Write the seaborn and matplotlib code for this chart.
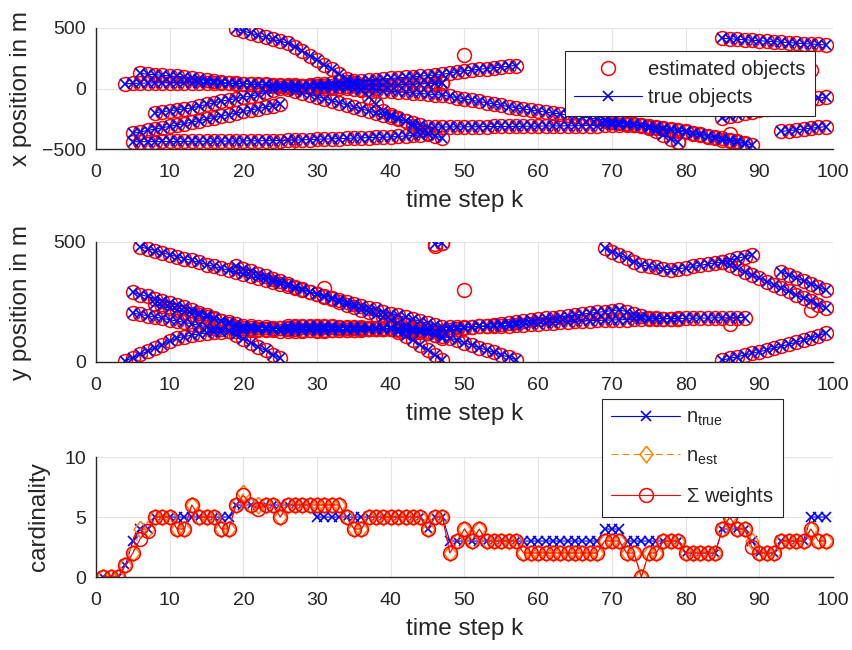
import numpy as np
import pandas as pd
import matplotlib
matplotlib.use("Agg")
import matplotlib.pyplot as plt
from matplotlib.lines import Line2D
import seaborn as sns

# ---------------- data: true object tracks (start step, x list, y list) -------------
a_k0 = 4
a_x = [40,42,44,45,46,47,48,48,48,47,46,45,44,43,42,41,40, 38,36,34,32,30,28,26,24,22,20,
       21,22,23,24,25,26,27,28,29,30,32,34,36,38,40,42,44]
a_y = [5,18,32,45,59,72,86,100,106,112,117,121,124,127,129,130,131, 133,135,137,139,141,143,145,147,149,150,
       149,148,147,146,145,144,143,142,141,140,125,110,90,70,50,28,8]

b_k0 = 5
b_x = [-440,-440,-439,-439,-438,-438,-437,-437,-436,-436,-435,-435,-434,-434,-433,-433,-432,-432,-431,-431,-430,
       -428,-426,-424,-422,-420,-418,-416,-414,-412,-410,-408,-406,-404,-402,-400,-396,-392,-388,-384,-380]
b_y = [290,281,273,264,256,247,239,230,218,206,194,182,170,157,145,142,140,137,135,132,130,
       130,131,131,132,132,133,133,134,134,135,135,136,136,137,137,138,138,139,139,140]

c_k0 = 5
c_x = [-370,-359,-347,-336,-324,-313,-301,-290,-278,-265,-253,-240,-228,-215,-203,-190,-178,-166,-154,-142,-130]
c_y = [204,198,193,187,182,176,171,165,159,153,147,141,136,130,114,97,81,64,48,31,15]

d_k0 = 6
d_x = [124,119,114,109,104,100,95,90, 80,70,60,50, 46,42,39,35,31,27,24,20, 18,16,14,12,10,8,6,4,2,0,
       -5,-9,-14,-18,-23,-28,-32,-37,-41,-46,-50,-55, -65,-76,-86,-97,-107,-118,-128,-139,-149,-160,-170,
       -178,-186,-195,-203,-211,-219,-227,-235,-244,-252,-260, -268,-276,-284,-292,-300,-308,-316,-324,-332,-340,
       -352,-364,-377,-389,-401,-413,-425,-438,-450]
d_y = [480,472,464,455,447,439,431,423,415,406,398,390,382,374,366,357,349,341,333,325,317,308,300,292,284,276,
       268,259,251,243,235,227,219,210,202,194,186,178,170,161,153,145,
       146,146,147,147,148,148,149,150, 152,154,156,158,160,162,164,166,168,170,
       171,172,173,174,175,176,177,178,179,180, 180,181,181,182,182,183,183,183,184,184,184,185,185]

e_k0 = 8
e_x = [-200,-192,-184,-176,-168,-160,-146,-132,-119,-105,-94,-83,-72,-61,-50,-31,-11,8,
       13,18,24,29,34,39,44,50,55,60,65,69,74,79,83,88,93,97,102,107,111,116,128,140,
       146,152,159,165,171,177,184,190]
e_y = [240,232,225,217,210,202,195,187,180,172,165,157,150,148,146,144,142,140,138,136,134,132,130,
       131,132,133,134,135,136,137,138,139,140,136,131,127,123,119,114,110,
       100,90,80,70,60,50,40,30,20,10]

f_k0 = 19
f_x = [490,475,458,440,422,405,392,375,345,310,272,235,198,160,120,80,45,-10,-70,-130,-190,
       -218,-245,-272,-307,-342,-370,-392,-410]
f_y = [400,389,379,368,357,346,336,325,314,304,293,282,271,261,250,239,229,218,207,196,186,
       175,164,154,143,132,121,111,100]

g_k0 = 26
g_x = [0,-17,-34,-50,-67,-84,-101,-118,-135,-152,-168,-185,-202,-219,-236,-253,-270,-286,-303,-320,
       -319,-318,-318,-317,-317,-316,-316,-315,-314,-314,-313,-313,-312,-311,-311,-310,-309,-309,-308,
       -308,-307,-306,-306,-305,-304,-304,-303,-302,-300, -330,-355,-385,-415,-445]
g_y = [150,149,148,147,146,145,144,143,142,141,140,139,138,137,136,135,134,133,132,131,130,130,
       134,138,141,145,149,152,156,160,163,167,171,174,178,182,185,189,192,196,200,203,207,210,214,217,
       210,200,190,185,182,180,180,180]

h_k0 = 46
h_x = [45,48]
h_y = [492,497]

i_k0 = 69
i_x = [-270,-278,-286,-294,-302,-310,-318,-326,-334,-342,-350,-362,-374,-386,-398,-410,-422,-434,-446,-455,-465]
i_y = [475,460,446,432,418,404,399,394,388,383,388,393,398,403,408,413,417,424,432,439,446]

j_k0 = 85
j_x = [415,411,407,403,399,395,391,387,383,379,375,371,368,364,360]
j_y = [417,404,390,376,362,349,335,321,308,294,280,266,253,239,225]

k_k0 = 85
k_x = [-240,-228,-216,-204,-192,-180,-167,-155,-143,-131,-119,-106,-94,-82,-70]
k_y = [8,15,22,29,36,43,50,58,66,74,82,91,100,110,120]

l_k0 = 93
l_x = [-355,-348,-342,-335,-328,-322,-315]
l_y = [375,363,350,338,325,313,300]

# estimated objects that do not sit on a true track (clutter / false estimates)
extra_k = [26, 31, 46, 47, 50, 79, 86, 97]
extra_x = [-470, 20, 40, 45, 280, -440, -380, 150]
extra_y = [140, 310, 485, 495, 300, 180, 160, 215]

# ---------------- data: cardinality ----------------
steps = list(range(1, 100))
n_true = [0,0,0,1,3,4,4,5,5,5, 5,5,5,5,5,5,5,5,6,6, 6,6,6,6,6,6,6,6,6,5,
          5,5,5,5,5,5,5,5,5,5, 5,5,5,5,4,5,5,3,3,3, 3,3,3,3,3,3,3,3,3,3,
          3,3,3,3,3,3,3,3,4,4, 4,3,3,3,3,3,3,3,3,2, 2,2,2,2,4,4,4,4,3,2,
          2,2,3,3,3,3,5,5,5]
n_est = [0,0,0,1,2,4,4,5,5,5, 4,4,6,5,5,5,4,4,6,7, 6,6,6,6,5,6,6,6,6,6,
         6,6,6,5,4,4,5,5,5,5, 5,5,5,5,4,5,5,2,3,4, 3,4,3,3,3,3,3,2,2,2,
         2,2,2,2,2,2,2,2,3,3, 3,2,2,0,2,2,3,3,3,2, 2,2,2,2,4,5,4,4,3,2,
         2,2,3,3,3,3,4,3,3]
w_sum = [0,0,0,1,2,3.2,3.8,5,5,5, 4,4,6,5,5,5,4,4,6,6.8, 6,5.7,6,6,5,6,6,6,6,6,
         6,6,6,5,4,4,5,5,5,5, 5,5,5,5,4,5,5,2,3,4, 3,4,3,3,3,3,3,2,2,2,
         2,2,2,2,2,2,2,2,3,3, 3,2,2,0,2,2,3,3,3,2, 2,2,2,2,4,5,4,4,2.5,2,
         2,2,3,3,3,3,4,3,3]

# ---------------- build tables ----------------
tracks = [("a", a_k0, a_x, a_y), ("b", b_k0, b_x, b_y), ("c", c_k0, c_x, c_y),
          ("d", d_k0, d_x, d_y), ("e", e_k0, e_x, e_y), ("f", f_k0, f_x, f_y),
          ("g", g_k0, g_x, g_y), ("h", h_k0, h_x, h_y), ("i", i_k0, i_x, i_y),
          ("j", j_k0, j_x, j_y), ("k", k_k0, k_x, k_y), ("l", l_k0, l_x, l_y)]
rows = []
for name, k0, xs, ys in tracks:
    for i, (xv, yv) in enumerate(zip(xs, ys)):
        rows.append({"obj": name, "k": k0 + i, "x": xv, "y": yv})
truth = pd.DataFrame(rows)
est = pd.concat([truth, pd.DataFrame({"obj": [f"z{i}" for i in range(len(extra_k))],
                                      "k": extra_k, "x": extra_x, "y": extra_y})],
                ignore_index=True)
card = pd.DataFrame({"k": steps, "n_true": n_true, "n_est": n_est, "w": w_sum})

# ---------------- style ----------------
sns.set_style("white")
TXT = "#262626"
plt.rcParams.update({
    "font.family": ["Liberation Sans", "DejaVu Sans"],
    "text.color": TXT, "axes.labelcolor": TXT,
    "xtick.color": TXT, "ytick.color": TXT,
    "axes.edgecolor": TXT, "axes.linewidth": 1.0,
    "xtick.direction": "in", "ytick.direction": "in",
    "xtick.major.size": 4, "ytick.major.size": 4,
    "xtick.major.width": 1.0, "ytick.major.width": 1.0,
    "mathtext.fontset": "custom", "mathtext.rm": "Liberation Sans",
    "mathtext.it": "Liberation Sans:italic",
})

BLUE, RED, ORANGE = "#0000FF", "#FF0000", "#FF8000"
TICK_FS, LAB_FS, LEG_FS = 14, 17.5, 14.5

fig = plt.figure(figsize=(8.53, 6.5), dpi=100)
L, W = 96/853, 737/853
ax1 = fig.add_axes([L, 1-149/650, W, 121/650])
ax2 = fig.add_axes([L, 1-362/650, W, 120/650])
ax3 = fig.add_axes([L, 1-577/650, W, 120/650])

def style(ax, ylim, yticks, ylabel, ylab_px):
    ax.set_xlim(0, 100)
    ax.set_ylim(*ylim)
    ax.set_xticks(range(0, 101, 10))
    ax.set_yticks(yticks)
    ax.grid(True, color="#E3E3E3", lw=0.8)
    ax.set_axisbelow(True)
    for s in ("top", "right"):
        ax.spines[s].set_visible(False)
    ax.tick_params(axis="x", labelsize=TICK_FS, pad=11)
    ax.tick_params(axis="y", labelsize=TICK_FS, pad=7)
    ax.set_xlabel("time step k", fontsize=LAB_FS)
    ax.set_ylabel(ylabel, fontsize=LAB_FS)
    h_px = ax.get_position().height * 650
    ax.xaxis.set_label_coords(0.5, -41 / h_px)
    ax.yaxis.set_label_coords((ylab_px - 96) / 737, 0.5)

circ_kw = dict(marker="o", markersize=10, markerfacecolor="none", markeredgecolor=RED,
               markeredgewidth=1.1, linestyle="", color=RED)
x_kw = dict(marker="x", markersize=7, markeredgecolor=BLUE, markeredgewidth=1.2,
            color=BLUE, lw=0.8)

for ax, col in ((ax1, "x"), (ax2, "y")):
    sns.lineplot(data=est, x="k", y=col, units="obj", estimator=None, sort=False,
                 ax=ax, legend=False, **circ_kw)
    sns.lineplot(data=truth, x="k", y=col, units="obj", estimator=None, sort=False,
                 ax=ax, legend=False, **x_kw)

style(ax1, (-500, 500), [-500, 0, 500], "x position in m", 32)
style(ax2, (0, 500), [0, 500], "y position in m", 32)

h_est = Line2D([], [], **circ_kw)
h_true = Line2D([], [], **x_kw)
leg1 = ax1.legend([h_est, h_true], ["estimated objects", "true objects"],
                  loc="upper left", bbox_to_anchor=(0.636, 0.81), borderaxespad=0,
                  fontsize=LEG_FS, frameon=True, fancybox=False, framealpha=1,
                  edgecolor=TXT, handlelength=3.4, handletextpad=0.3,
                  labelspacing=0.45, borderpad=0.45)
leg1.get_frame().set_linewidth(0.8)

# cardinality panel
sns.lineplot(data=card, x="k", y="n_true", ax=ax3, color=BLUE, marker="x", markersize=7,
             markeredgecolor=BLUE, markeredgewidth=1.2, lw=0.8, legend=False)
dmark = [(0, 1), (0.78, 0), (0, -1), (-0.78, 0), (0, 1)]
sns.lineplot(data=card, x="k", y="n_est", ax=ax3, color=ORANGE, marker=dmark, markersize=12,
             markerfacecolor="none", markeredgecolor=ORANGE, markeredgewidth=1.1,
             lw=0.8, linestyle=(0, (6, 4)), legend=False)
sns.lineplot(data=card, x="k", y="w", ax=ax3, color=RED, marker="o", markersize=10,
             markerfacecolor="none", markeredgecolor=RED, markeredgewidth=1.1,
             lw=0.8, legend=False)
style(ax3, (0, 10), [0, 5, 10], "cardinality", 50)

hc1 = Line2D([], [], color=BLUE, marker="x", markersize=7, markeredgewidth=1.2, lw=0.8)
hc2 = Line2D([], [], color=ORANGE, marker=dmark, markersize=12, markerfacecolor="none",
             markeredgewidth=1.1, lw=0.8, linestyle=(0, (6, 4)))
hc3 = Line2D([], [], color=RED, marker="o", markersize=10, markerfacecolor="none",
             markeredgewidth=1.1, lw=0.8)
leg3 = ax3.legend([hc1, hc2, hc3],
                  [r"n$_{\mathrm{true}}$", r"n$_{\mathrm{est}}$", r"$\Sigma$ weights"],
                  loc="upper left", bbox_to_anchor=(0.687, 1.483), borderaxespad=0,
                  fontsize=LEG_FS, frameon=True, fancybox=False, framealpha=1,
                  edgecolor=TXT, handlelength=3.4, handletextpad=0.3,
                  labelspacing=0.9, borderpad=0.45)
leg3.get_frame().set_linewidth(0.8)
leg3.set_zorder(10)

fig.savefig("out.png", dpi=100)
